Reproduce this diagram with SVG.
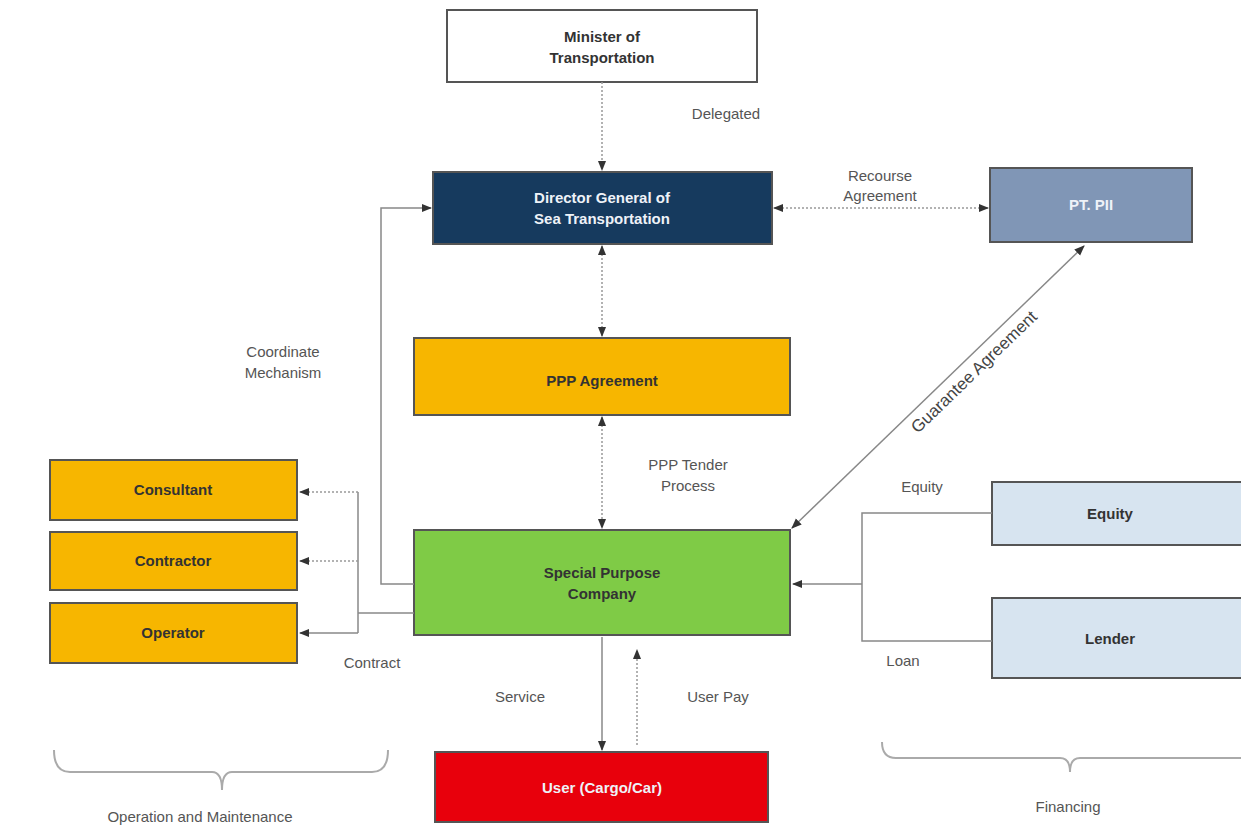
<svg xmlns="http://www.w3.org/2000/svg" width="1241" height="828" viewBox="0 0 1241 828">
<style>
.box{stroke:#555;stroke-width:2}
.bt{font-family:"Liberation Sans",Arial,sans-serif;font-size:15px;font-weight:bold;text-anchor:middle;fill:#333}
.wt{fill:#eef2f8}
.lbl{font-family:"Liberation Sans",Arial,sans-serif;font-size:15px;text-anchor:middle;fill:#555}
.ln{fill:none;stroke:#888;stroke-width:1.5}
.dot{fill:none;stroke:#999;stroke-width:1.5;stroke-dasharray:2 2}
.br{fill:none;stroke:#aaa;stroke-width:2}
</style>
<defs>
<marker id="ah" viewBox="0 0 10 10" refX="9" refY="5" markerWidth="7" markerHeight="7" orient="auto-start-reverse">
<path d="M0,1 L10,5 L0,9 z" fill="#333"/>
</marker>
</defs>
<rect width="1241" height="828" fill="#fff"/>

<g id="minister"><rect class="box" x="447" y="10" width="310" height="72" fill="#fff"/>
<text class="bt" x="602" y="42">Minister of</text><text class="bt" x="602" y="63">Transportation</text></g>

<g id="dg"><rect class="box" x="433" y="172" width="339" height="72" fill="#163a5e" stroke="#1a2c40"/>
<text class="bt wt" x="602" y="203">Director General of</text><text class="bt wt" x="602" y="224">Sea Transportation</text></g>

<g id="ptpii"><rect class="box" x="990" y="168" width="202" height="74" fill="#8096b6" stroke="#6a7a90"/>
<text class="bt wt" x="1091" y="210">PT. PII</text></g>

<g id="ppp"><rect class="box" x="414" y="338" width="376" height="77" fill="#f7b600" stroke="#8a7020"/>
<text class="bt" x="602" y="386">PPP Agreement</text></g>

<g id="spc"><rect class="box" x="414" y="530" width="376" height="105" fill="#7fcb46" stroke="#4a7a30"/>
<text class="bt" x="602" y="578">Special Purpose</text><text class="bt" x="602" y="599">Company</text></g>

<g id="consultant"><rect class="box" x="50" y="460" width="247" height="60" fill="#f7b600" stroke="#8a7020"/>
<text class="bt" x="173" y="495">Consultant</text></g>
<g id="contractor"><rect class="box" x="50" y="532" width="247" height="58" fill="#f7b600" stroke="#8a7020"/>
<text class="bt" x="173" y="566">Contractor</text></g>
<g id="operator"><rect class="box" x="50" y="603" width="247" height="60" fill="#f7b600" stroke="#6a6020"/>
<text class="bt" x="173" y="638">Operator</text></g>

<g id="user"><rect class="box" x="435" y="752" width="333" height="70" fill="#e8000c" stroke="#b00008"/>
<text class="bt wt" x="602" y="793">User (Cargo/Car)</text></g>

<g id="equity"><rect class="box" x="992" y="482" width="252" height="63" fill="#d7e4f0" stroke="#555"/>
<text class="bt" x="1110" y="519">Equity</text></g>
<g id="lender"><rect class="box" x="992" y="598" width="252" height="80" fill="#d7e4f0" stroke="#555"/>
<text class="bt" x="1110" y="644">Lender</text></g>

<g id="connectors">
<line class="dot" x1="602" y1="82" x2="602" y2="170" marker-end="url(#ah)"/>
<line class="dot" x1="774" y1="208" x2="988" y2="208" marker-start="url(#ah)" marker-end="url(#ah)"/>
<line class="dot" x1="602" y1="246" x2="602" y2="336" marker-start="url(#ah)" marker-end="url(#ah)"/>
<line class="dot" x1="602" y1="417" x2="602" y2="528" marker-start="url(#ah)" marker-end="url(#ah)"/>
<line class="ln" x1="792" y1="528" x2="1084" y2="246" marker-start="url(#ah)" marker-end="url(#ah)"/>
<polyline class="ln" points="414,584 381,584 381,208 431,208" marker-end="url(#ah)"/>
<line class="ln" x1="414" y1="613" x2="358" y2="613"/>
<line class="ln" x1="358" y1="492" x2="358" y2="633"/>
<line class="dot" x1="358" y1="492" x2="300" y2="492" marker-end="url(#ah)"/>
<line class="dot" x1="358" y1="561" x2="300" y2="561" marker-end="url(#ah)"/>
<line class="ln" x1="358" y1="633" x2="300" y2="633" marker-end="url(#ah)"/>
<line class="ln" x1="602" y1="637" x2="602" y2="750" marker-end="url(#ah)"/>
<line class="dot" x1="637" y1="745" x2="637" y2="650" marker-end="url(#ah)"/>
<polyline class="ln" points="992,513 862,513 862,641 992,641"/>
<line class="ln" x1="862" y1="584" x2="793" y2="584" marker-end="url(#ah)"/>
<path class="br" d="M54,750 Q54,772 70,772 L212,772 Q222,772 222,790 Q222,772 232,772 L372,772 Q388,772 388,750"/>
<path class="br" d="M882,742 Q882,758 896,758 L1060,758 Q1070,758 1070,772 Q1070,758 1080,758 L1241,758"/>
</g>

<g id="labels">
<text class="lbl" x="726" y="119">Delegated</text>
<text class="lbl" x="880" y="181">Recourse</text><text class="lbl" x="880" y="201">Agreement</text>
<text class="lbl" x="283" y="357">Coordinate</text><text class="lbl" x="283" y="378">Mechanism</text>
<text class="lbl" x="688" y="470">PPP Tender</text><text class="lbl" x="688" y="491">Process</text>
<text class="lbl" style="font-size:17px;fill:#444" transform="translate(978,376) rotate(-44)">Guarantee Agreement</text>
<text class="lbl" x="922" y="492">Equity</text>
<text class="lbl" x="903" y="666">Loan</text>
<text class="lbl" x="372" y="668">Contract</text>
<text class="lbl" x="520" y="702">Service</text>
<text class="lbl" x="718" y="702">User Pay</text>
<text class="lbl" x="200" y="822">Operation and Maintenance</text>
<text class="lbl" x="1068" y="812">Financing</text>
</g>
</svg>
